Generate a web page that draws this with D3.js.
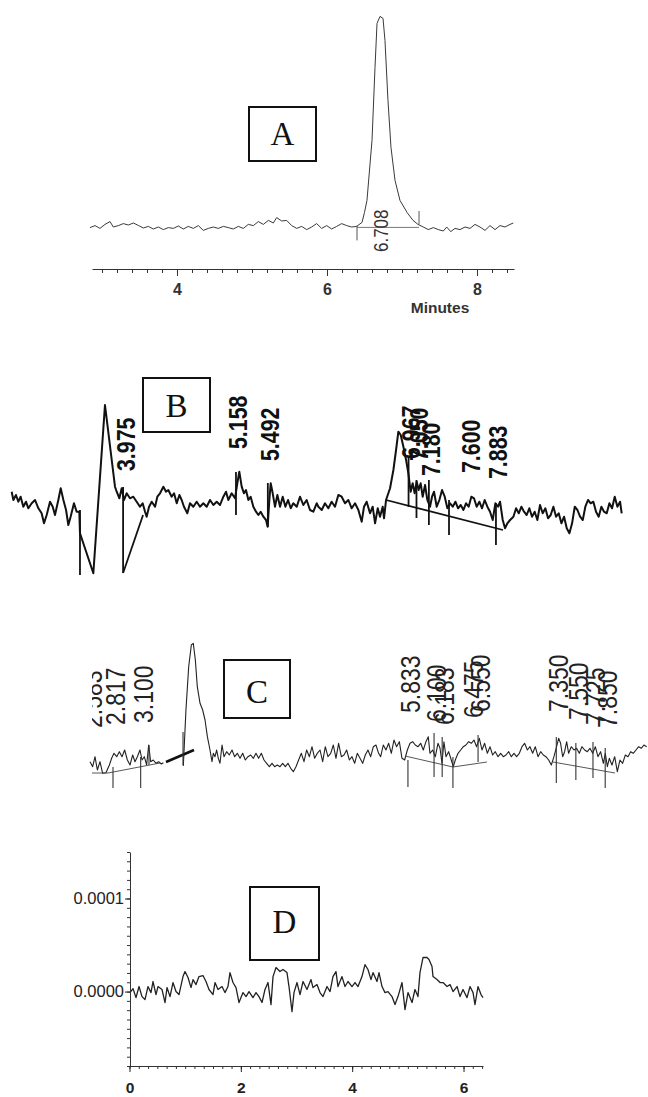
<!DOCTYPE html>
<html>
<head>
<meta charset="utf-8">
<script src="https://cdn.jsdelivr.net/npm/d3@7"></script>
<style>
  html, body { margin: 0; padding: 0; background: #fff; }
  svg { display: block; }
</style>
</head>
<body>
<svg id="fig" width="648" height="1097"></svg>
<script>
// ---------- Chromatogram A (minutes, detector response in mV) ----------
const traceA = [
  [2.840,-0.3],[2.907,0.7],[2.973,-0.7],[3.040,1.3],[3.107,2.7],[3.151,0],[3.218,0.7],[3.284,1.7],[3.351,1.0],
  [3.418,2.0],[3.484,0.8],[3.551,-0.5],[3.618,0.3],[3.684,-1.0],[3.751,0],[3.818,-1.3],[3.884,-0.3],[3.951,-0.7],
  [4.018,0.5],[4.084,-1.0],[4.151,0.3],[4.218,-0.7],[4.284,0.7],[4.351,-1.7],[4.418,-0.7],[4.484,0],[4.551,-0.7],
  [4.618,0.3],[4.684,-0.3],[4.751,-1.0],[4.818,0.3],[4.884,-0.7],[4.951,1.3],[5.018,0.7],[5.084,2.7],[5.151,1.3],
  [5.218,3.3],[5.284,2.0],[5.329,4.7],[5.396,3.0],[5.462,3.3],[5.529,0.7],[5.596,-0.7],[5.662,0.3],[5.729,-1.3],
  [5.796,0],[5.862,1.7],[5.929,-0.7],[5.996,0.7],[6.062,-1.0],[6.129,0.3],[6.196,1.7],[6.262,0.7],[6.329,0],
  [6.396,0.3],[6.467,2.3],[6.500,7.3],[6.533,13.3],[6.600,43.3],[6.640,79.8],[6.667,101.8],[6.707,105.3],
  [6.747,104.3],[6.773,93.3],[6.813,63.3],[6.853,39.8],[6.907,23.3],[6.973,13.3],[7.067,7.3],[7.147,3.3],
  [7.213,1.3],[7.284,0],[7.351,-1.3],[7.418,-0.3],[7.484,-1.3],[7.551,-2.0],[7.596,0],[7.649,-2.3],[7.707,-0.7],
  [7.773,-1.3],[7.840,0],[7.907,-0.7],[7.973,1.3],[8.040,0],[8.107,-1.7],[8.173,0.7],[8.240,-1.3],[8.307,0.7],
  [8.373,0],[8.440,1.3],[8.484,2.0]
];
const peaksA = [6.708];
const baselineA = [[6.400,-0.2],[7.227,-0.2]];
const marksA = [[6.400,0.8,-6.7],[7.227,1.3,8.0]];      // [time, top, bottom]
const majorTicksA = [4, 6, 8];
const minorTicksA = d3.range(15, 43).map(i => i / 5);   // 3.0 ... 8.4 every 0.2 min

// ---------- Chromatogram B ----------
const traceB = [
  [2.807,0.83],[2.825,0.0],[2.852,0.5],[2.877,-0.17],[2.901,0.33],[2.929,-0.67],[2.957,-0.17],[2.982,-0.83],
  [3.017,-0.33],[3.052,0],[3.087,-0.83],[3.121,-1.33],[3.146,-2.33],[3.174,-1.5],[3.209,-0.17],[3.237,-0.67],
  [3.261,-1.5],[3.296,0],[3.321,1.17],[3.349,0],[3.377,-1.0],[3.401,-2.5],[3.425,-1.67],[3.460,-0.33],
  [3.488,-1.17],[3.516,-1.17],[3.523,-3.33],[3.663,-7.33],[3.785,9.5],[3.890,1.33],[3.908,0.83],[3.936,0.17],
  [3.960,1.17],[3.985,0],[4.012,0.67],[4.047,0.17],[4.082,0.33],[4.117,-0.17],[4.152,-0.67],[4.180,-0.33],
  [4.205,-1.17],[4.222,-1.67],[4.247,-0.67],[4.275,-0.17],[4.310,-0.67],[4.334,0.33],[4.362,0.67],[4.397,1.33],
  [4.425,0.83],[4.449,1.0],[4.484,0.33],[4.509,0.67],[4.537,-0.33],[4.565,0.5],[4.589,0],[4.613,-0.67],
  [4.648,-1.33],[4.676,-0.33],[4.711,-0.67],[4.746,-0.17],[4.781,-0.67],[4.816,-0.33],[4.851,-0.67],[4.886,0],
  [4.921,-0.5],[4.956,-0.17],[4.991,-0.5],[5.026,0.33],[5.054,0.83],[5.078,0],[5.113,0.67],[5.148,0.17],
  [5.172,1.67],[5.193,2.83],[5.218,1.33],[5.242,0.67],[5.263,1.0],[5.288,0],[5.312,0.33],[5.340,-0.67],
  [5.368,-1.17],[5.393,-1.5],[5.417,-1.17],[5.445,-1.67],[5.473,-2.0],[5.490,-2.67],[5.508,0],[5.522,1.67],
  [5.543,0.67],[5.567,-0.67],[5.592,0.5],[5.620,-0.67],[5.648,0.33],[5.676,-0.67],[5.704,0],[5.732,-0.83],
  [5.759,-0.33],[5.795,-0.67],[5.829,0.33],[5.864,-0.5],[5.899,0],[5.934,-1.0],[5.969,-1.17],[6.004,-0.33],
  [6.022,-0.67],[6.057,-1.0],[6.091,-0.33],[6.126,-0.83],[6.161,-0.17],[6.196,-0.67],[6.231,0.5],[6.266,0.33],
  [6.301,-0.33],[6.336,0],[6.371,-0.83],[6.406,-0.33],[6.441,-1.0],[6.476,-2.17],[6.500,-0.67],[6.528,-0.17],
  [6.563,-1.33],[6.591,-0.67],[6.616,-2.33],[6.644,-0.83],[6.668,-1.67],[6.696,-0.67],[6.710,-1.83],[6.731,0],
  [6.773,1.17],[6.808,3.0],[6.836,5.0],[6.860,6.83],[6.885,6.5],[6.913,5.33],[6.941,4.0],[6.965,2.67],
  [6.989,0.83],[7.010,1.67],[7.031,0.67],[7.052,1.83],[7.073,1.0],[7.094,1.67],[7.115,0.33],[7.140,1.5],
  [7.164,0],[7.192,-0.67],[7.213,0.33],[7.234,0.83],[7.262,-0.67],[7.290,0],[7.318,1.0],[7.346,0.33],
  [7.374,-0.83],[7.402,-0.33],[7.430,-0.67],[7.458,-0.17],[7.486,-0.83],[7.514,-0.5],[7.542,-1.0],[7.569,-0.33],
  [7.597,-0.67],[7.625,0.33],[7.653,0.17],[7.681,-0.67],[7.709,-0.17],[7.737,-0.83],[7.765,0],[7.793,-0.67],
  [7.821,-1.17],[7.849,-2.0],[7.877,-0.33],[7.905,-0.67],[7.926,-0.17],[7.954,-2.0],[7.978,-2.83],[8.003,-2.33],
  [8.031,-2.0],[8.066,-1.67],[8.094,-0.83],[8.122,-1.33],[8.150,-0.67],[8.177,-1.17],[8.205,-1.5],[8.233,-0.83],
  [8.261,-1.67],[8.289,-1.17],[8.317,-2.0],[8.345,-0.5],[8.373,-1.33],[8.401,-0.83],[8.429,-1.83],[8.457,-1.5],
  [8.485,-0.67],[8.513,-1.67],[8.541,-1.33],[8.569,-2.33],[8.597,-1.67],[8.625,-2.83],[8.653,-3.33],[8.681,-2.33],
  [8.709,-0.67],[8.737,-1.0],[8.765,-1.67],[8.793,-2.0],[8.820,-0.67],[8.848,0],[8.876,-0.33],[8.904,-0.17],
  [8.932,-1.17],[8.960,-1.67],[8.988,-0.67],[9.016,-1.17],[9.044,-1.33],[9.072,-0.33],[9.100,-0.83],[9.128,0.33],
  [9.156,-0.67],[9.184,-0.17],[9.201,-1.33]
];
const peaksB = [3.975, 5.158, 5.492, 6.967, 7.050, 7.180, 7.600, 7.883];
const marksB = [
  [3.523,-1.0,-7.5],[3.975,1.3,-7.3],[5.158,2.8,-1.5],[5.492,1.7,-2.7],[6.967,4.3,-0.7],
  [7.050,2.0,-1.8],[7.180,2.0,-2.5],[7.391,0,-3.5],[7.883,-0.3,-4.5]
];
const baselinesB = [
  [[3.975,-7.3],[4.184,-1.5]],
  [[6.731,0],[7.957,-3.0]]
];

// ---------- Chromatogram C ----------
const traceC = [
  [2.582,-0.47],[2.609,-0.97],[2.633,0.03],[2.657,-1.3],[2.684,-0.47],[2.711,-1.63],[2.745,-1.57],[2.780,-0.8],
  [2.803,-0.13],[2.827,0.37],[2.855,0.03],[2.882,0.53],[2.909,0.03],[2.936,0.7],[2.964,-0.3],[2.991,-0.8],
  [3.018,0.2],[3.042,-0.47],[3.066,0.03],[3.093,0.7],[3.114,-0.3],[3.137,0.03],[3.161,-0.8],[3.182,1.2],
  [3.202,-0.47],[3.229,-0.3],[3.257,-0.63],[3.284,-0.47],[3.311,-0.7],[3.332,-0.57],[3.434,null],
  [3.536,-0.9],[3.563,4.7],[3.591,9.03],[3.618,11.2],[3.638,11.37],[3.659,9.7],[3.679,7.03],[3.707,5.37],
  [3.734,4.7],[3.758,3.7],[3.782,2.03],[3.809,0.7],[3.829,-0.47],[3.843,0.37],[3.860,0.03],[3.877,0.7],
  [3.894,-0.13],[3.911,-0.63],[3.932,1.2],[3.952,0.03],[3.979,0.53],[4.006,0.2],[4.034,0.7],[4.061,0.03],
  [4.088,0.37],[4.116,-0.13],[4.143,0.37],[4.170,-0.3],[4.197,0.03],[4.225,0.2],[4.252,-0.13],[4.279,0.37],
  [4.306,-0.13],[4.334,0.37],[4.361,-0.3],[4.388,-0.63],[4.416,-0.97],[4.443,-0.63],[4.470,-0.97],[4.497,-0.8],
  [4.525,-0.97],[4.552,-0.63],[4.579,-0.97],[4.606,-0.63],[4.634,-1.13],[4.661,-1.47],[4.688,-0.97],[4.715,-0.3],
  [4.743,0.37],[4.770,-0.47],[4.797,0.7],[4.825,0.03],[4.852,1.03],[4.879,-0.13],[4.906,0.37],[4.934,0.7],
  [4.961,-0.47],[4.988,1.03],[5.015,0.03],[5.043,0.37],[5.070,1.2],[5.097,-0.13],[5.124,1.37],[5.152,0.03],
  [5.179,0.2],[5.206,0.7],[5.234,-0.3],[5.261,0.03],[5.288,-0.63],[5.315,0.37],[5.343,-0.13],[5.370,-0.63],
  [5.397,0.2],[5.424,0.7],[5.452,0.03],[5.479,1.03],[5.506,1.2],[5.533,0.37],
  [5.554,0.03],[5.581,1.2],[5.608,0.7],[5.636,1.37],[5.663,0.37],[5.690,1.7],[5.717,1.03],[5.745,1.53],
  [5.772,-0.13],[5.799,-0.3],[5.827,0.7],[5.854,1.37],[5.881,1.53],[5.908,1.2],[5.936,1.03],[5.963,1.37],
  [5.990,0.7],[6.017,1.53],[6.041,2.03],[6.058,0.37],[6.086,0.7],[6.113,0.03],[6.140,1.37],[6.161,0.87],
  [6.181,-0.63],[6.201,1.53],[6.222,0.03],[6.249,0.53],[6.276,-0.3],[6.297,-0.97],[6.317,-0.3],[6.345,0.37],
  [6.372,0.7],[6.399,1.03],[6.426,1.2],[6.454,1.53],[6.481,1.37],[6.508,1.7],[6.535,1.03],[6.563,1.87],
  [6.590,0.7],[6.617,1.37],[6.645,0.37],[6.672,1.03],[6.699,0.2],[6.726,0.53],[6.754,0.03],[6.781,0.37],
  [6.808,0.03],[6.835,0.2],[6.863,0.53],[6.890,0.03],[6.917,0.37],[6.944,0.03],[6.972,0.37],[6.999,1.03],
  [7.026,1.37],[7.054,0.7],[7.081,1.03],[7.108,0.37],[7.135,1.03],[7.163,0.03],[7.190,0.53],[7.217,0.2],
  [7.244,0.03],[7.272,-0.3],[7.299,-0.8],[7.326,0.03],[7.353,1.03],[7.374,1.87],[7.394,1.37],[7.415,0.03],
  [7.435,0.53],[7.456,1.53],[7.476,0.37],[7.503,1.03],[7.531,0.7],[7.558,0.87],[7.585,0.37],[7.612,1.03],
  [7.640,0.7],[7.667,0.53],[7.694,0.87],[7.722,0.37],[7.749,1.03],[7.776,0.03],[7.803,0.53],[7.831,-0.63],
  [7.851,0.37],[7.872,-0.97],[7.892,-0.13],[7.919,-0.8],[7.947,0.03],[7.974,-1.47],[8.001,-0.3],[8.028,-0.63],
  [8.056,0.2],[8.083,0.03],[8.110,0.53],[8.137,0.37],[8.165,0.7],[8.192,1.03],[8.219,0.87],[8.246,1.2],[8.274,1.03]
];
const peaksC = [2.583, 2.817, 3.100, 5.833, 6.100, 6.183, 6.475, 6.550, 7.350, 7.550, 7.725, 7.850];
const marksC = [
  [2.817,-1.0,-3.1],[3.100,0,-3.1],[3.185,1.2,-0.8],[3.533,2.5,-0.8],[5.833,-0.3,-3.0],[6.100,2.4,-2.0],
  [6.183,2.0,-2.0],[6.293,0,-3.1],[6.550,2.2,-0.5],[7.350,2.0,-2.6],[7.550,1.4,-2.3],[7.725,1.5,-2.1],[7.850,0.9,-3.1]
];
const baselinesC = [
  [[2.602,-1.6],[2.766,-1.6],[3.298,-0.6]],
  [[5.803,0.1],[6.293,-1.0],[6.641,-0.5]],
  [[7.316,-0.5],[7.950,-1.6]]
];
const boldBaselineC = [[3.359,-0.5],[3.645,0.7]];

// ---------- Chromatogram D (absorbance, AU; values below in units of 1e-5 AU) ----------
const traceD_e5 = [
  [0.009,-0.11],[0.063,0.32],[0.117,-0.65],[0.171,0.54],[0.225,-0.54],[0.278,-0.86],[0.332,0.54],[0.386,-0.11],
  [0.422,1.08],[0.476,-0.32],[0.512,0.54],[0.584,0.22],[0.638,-1.18],[0.674,0.43],[0.728,-0.54],[0.781,0.97],
  [0.835,0],[0.889,-0.32],[0.961,1.61],[0.997,2.15],[1.051,1.51],[1.105,0.43],[1.141,1.29],[1.195,0.75],
  [1.248,1.61],[1.320,1.72],[1.374,1.08],[1.428,0.22],[1.500,-0.32],[1.536,0.97],[1.590,0.22],[1.662,0.54],
  [1.715,-0.11],[1.769,0.54],[1.805,2.04],[1.859,0.97],[1.913,0.43],[1.967,-1.18],[2.039,-0.11],[2.093,-0.54],
  [2.147,0],[2.218,-0.65],[2.272,-0.11],[2.326,-0.54],[2.380,-1.18],[2.434,0.22],[2.488,0.97],[2.542,-1.40],
  [2.578,1.61],[2.632,2.58],[2.703,2.15],[2.757,2.37],[2.829,2.04],[2.865,0.54],[2.919,-2.15],[2.955,-0.11],
  [3.009,0.97],[3.063,-0.32],[3.117,1.08],[3.188,0.22],[3.260,1.29],[3.296,0.43],[3.368,0.75],[3.422,-0.11],
  [3.476,-0.54],[3.548,0.54],[3.602,0],[3.655,1.61],[3.709,2.15],[3.745,0.54],[3.817,1.61],[3.871,0.54],
  [3.925,1.08],[3.997,0.54],[4.051,0.97],[4.105,0.54],[4.176,1.61],[4.230,2.90],[4.284,2.37],[4.338,1.29],
  [4.374,2.04],[4.446,1.08],[4.482,2.04],[4.536,0.54],[4.590,-0.11],[4.643,0],[4.715,-0.54],[4.769,-1.40],
  [4.823,-0.54],[4.895,0.97],[4.949,-1.94],[5.003,-0.11],[5.075,-1.18],[5.128,0.22],[5.182,-0.54],[5.218,2.04],
  [5.272,3.66],[5.344,3.66],[5.380,3.44],[5.434,2.69],[5.452,1.61],[5.524,1.29],[5.578,0.97],[5.632,0.97],
  [5.704,0.54],[5.758,0.75],[5.812,0],[5.884,0.54],[5.937,-0.54],[5.991,0.22],[6.063,-0.65],[6.117,0.54],
  [6.171,-0.11],[6.206,-1.40],[6.260,0.54],[6.314,-0.32],[6.350,-0.65]
];
const traceD = traceD_e5.map(([t, v]) => [t, v * 1e-5]);
const majorTicksDx = [0, 2, 4, 6];
const minorTicksDx = d3.range(0, 39).map(i => i / 6);
const majorTicksDy = [0, 0.0001];
const minorTicksDy = d3.range(-8, 16).map(i => i * 1e-5);

// ---------- drawing ----------
const SANS = "'Liberation Sans', Arial, Helvetica, sans-serif";
const SERIF = "'Liberation Serif', 'Times New Roman', serif";
const fmt3 = d3.format(".3f");
const svg = d3.select("#fig");
const defs = svg.append("defs");

function panelBox(g, x, y, w, h, letter, baseY) {
  g.append("rect").attr("x", x).attr("y", y).attr("width", w).attr("height", h)
    .attr("fill", "none").attr("stroke", "#111").attr("stroke-width", 2);
  g.append("text").attr("x", x + w / 2).attr("y", baseY).attr("text-anchor", "middle")
    .attr("font-family", SERIF).attr("font-size", 33).attr("fill", "#111").text(letter);
}

function peakLabels(g, times, xs, bottoms, offset, size, sx, weight, color) {
  g.selectAll(null).data(times).join("text")
    .attr("transform", (d, i) => `translate(${xs(d) + offset},${bottoms[i]}) rotate(-90) scale(${sx},1)`)
    .attr("font-family", SANS).attr("font-size", size).attr("font-weight", weight)
    .attr("fill", color).text(d => fmt3(d));
}

function markLines(g, marks, xs, ys, color, width) {
  g.selectAll(null).data(marks).join("line")
    .attr("x1", d => xs(d[0])).attr("x2", d => xs(d[0]))
    .attr("y1", d => ys(d[1])).attr("y2", d => ys(d[2]))
    .attr("stroke", color).attr("stroke-width", width);
}

function styleAxis(sel, color, size, weight) {
  sel.selectAll("path, line").attr("stroke", color);
  sel.selectAll("text").attr("font-family", SANS).attr("font-size", size)
    .attr("font-weight", weight).attr("fill", color);
  sel.attr("font-family", null).attr("font-size", null);
}

// Panel A
{
  const g = svg.append("g");
  const x = d3.scaleLinear().domain([2.8667, 8.4933]).range([92, 514]);
  const y = d3.scaleLinear().domain([0, 100]).range([227, 27]);
  const line = d3.line().x(d => x(d[0])).y(d => y(d[1]));
  g.append("path").datum(traceA).attr("d", line).attr("fill", "none")
    .attr("stroke", "#3a3a3a").attr("stroke-width", 1).attr("stroke-linejoin", "round");
  g.append("path").datum(baselineA).attr("d", line).attr("fill", "none")
    .attr("stroke", "#666").attr("stroke-width", 0.9);
  markLines(g, marksA, x, y, "#555", 1);
  peakLabels(g, peaksA, x, [252], 8, 20, 0.85, "normal", "#333");

  const minor = d3.axisBottom(x).tickValues(minorTicksA).tickSize(4).tickSizeOuter(0).tickFormat("");
  g.append("g").attr("transform", "translate(0,269)").call(minor).call(s => styleAxis(s, "#333", 15, "bold"));
  const major = d3.axisBottom(x).tickValues(majorTicksA).tickSize(7).tickSizeOuter(0).tickPadding(8).tickFormat(d3.format("d"));
  g.append("g").attr("transform", "translate(0,269)").call(major)
    .call(s => s.select(".domain").remove()).call(s => styleAxis(s, "#333", 16, "bold"));
  g.append("text").attr("x", 440).attr("y", 313).attr("text-anchor", "middle")
    .attr("font-family", SANS).attr("font-size", 15.5).attr("font-weight", "bold").attr("fill", "#333").text("Minutes");
  panelBox(g, 249, 107, 67, 54, "A", 145);
}

// Panel B
{
  const g = svg.append("g");
  const x = d3.scaleLinear().domain([2.8, 9.2]).range([11, 621.6]);
  const y = d3.scaleLinear().domain([0, 10]).range([500, 400]);
  const line = d3.line().x(d => x(d[0])).y(d => y(d[1]));
  g.append("path").datum(traceB).attr("d", line).attr("fill", "none")
    .attr("stroke", "#111").attr("stroke-width", 2).attr("stroke-linejoin", "round");
  baselinesB.forEach(b => g.append("path").datum(b).attr("d", line).attr("fill", "none")
    .attr("stroke", "#111").attr("stroke-width", 1.8));
  markLines(g, marksB, x, y, "#111", 1.8);
  peakLabels(g, peaksB, x, [471, 449, 461, 459, 461, 476, 473, 479], 11.5, 26, 0.82, "bold", "#111");
  panelBox(g, 143, 378, 67, 54, "B", 417);
}

// Panel C
{
  defs.append("clipPath").attr("id", "clipC")
    .append("rect").attr("x", 92).attr("y", 600).attr("width", 560).attr("height", 200);
  const g = svg.append("g");
  const x = d3.scaleLinear().domain([2.817, 7.350]).range([113, 556.3]);
  const y = d3.scaleLinear().domain([0, 10]).range([757, 657]);
  const line = d3.line().defined(d => d[1] !== null).x(d => x(d[0])).y(d => y(d[1]));
  g.append("path").datum(traceC).attr("d", line).attr("fill", "none")
    .attr("stroke", "#222").attr("stroke-width", 1.1).attr("stroke-linejoin", "round");
  baselinesC.forEach(b => g.append("path").datum(b).attr("d", line).attr("fill", "none")
    .attr("stroke", "#444").attr("stroke-width", 0.9));
  g.append("path").datum(boldBaselineC).attr("d", line).attr("fill", "none")
    .attr("stroke", "#111").attr("stroke-width", 2.6);
  markLines(g, marksC, x, y, "#333", 1.1);
  const labels = g.append("g").attr("clip-path", "url(#clipC)");
  peakLabels(labels, peaksC, x, [728, 725, 723, 713, 722, 725, 718, 712, 712, 720, 725, 728], 12, 27, 0.85, "normal", "#222");
  panelBox(g, 224, 660, 66, 58, "C", 703);
}

// Panel D
{
  const g = svg.append("g");
  const x = d3.scaleLinear().domain([0, 6.35]).range([129.5, 483]);
  const y = d3.scaleLinear().domain([-0.00008, 0.00015]).range([1066, 852]);
  const line = d3.line().x(d => x(d[0])).y(d => y(d[1]));
  g.append("path").datum(traceD).attr("d", line).attr("fill", "none")
    .attr("stroke", "#222").attr("stroke-width", 1.3).attr("stroke-linejoin", "round");

  const yMinor = d3.axisLeft(y).tickValues(minorTicksDy).tickSize(3).tickSizeOuter(0).tickFormat("");
  g.append("g").attr("transform", "translate(130,0)").call(yMinor).call(s => styleAxis(s, "#333", 16, "normal"));
  const yMajor = d3.axisLeft(y).tickValues(majorTicksDy).tickSize(5).tickSizeOuter(0).tickPadding(1).tickFormat(d3.format(".4f"));
  g.append("g").attr("transform", "translate(130,0)").call(yMajor)
    .call(s => s.select(".domain").remove()).call(s => styleAxis(s, "#222", 16.5, "normal"));

  const xMinor = d3.axisBottom(x).tickValues(minorTicksDx).tickSize(3).tickSizeOuter(0).tickFormat("");
  g.append("g").attr("transform", "translate(0,1066)").call(xMinor).call(s => styleAxis(s, "#333", 16, "normal"));
  const xMajor = d3.axisBottom(x).tickValues(majorTicksDx).tickSize(6).tickSizeOuter(0).tickPadding(10).tickFormat(d3.format("d"));
  g.append("g").attr("transform", "translate(0,1066)").call(xMajor)
    .call(s => s.select(".domain").remove()).call(s => styleAxis(s, "#222", 15.5, "bold"));
  panelBox(g, 250, 887, 69, 73, "D", 933);
}
</script>
</body>
</html>
